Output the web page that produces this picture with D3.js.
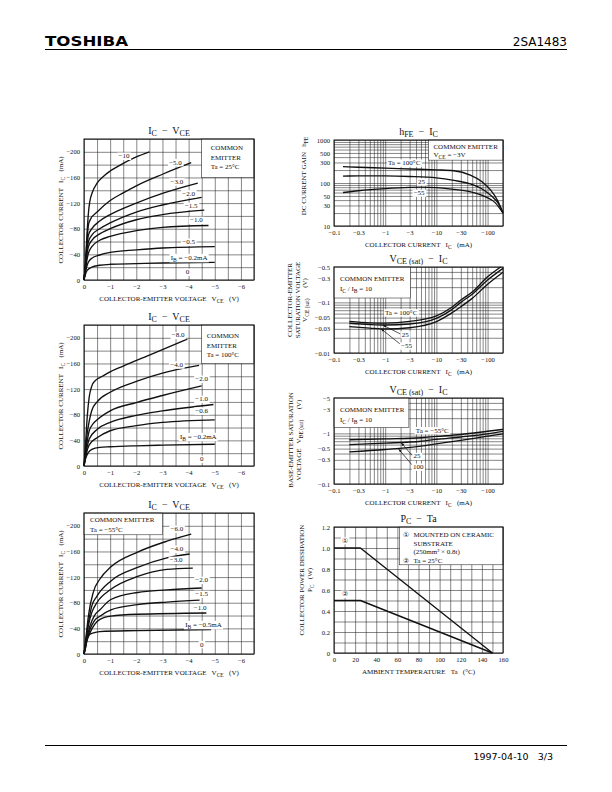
<!DOCTYPE html>
<html>
<head>
<meta charset="utf-8">
<script src="https://cdn.jsdelivr.net/npm/d3@7"></script>
<style>
    html, body { margin: 0; padding: 0; background: #fff; }
    svg { display: block; }
    text { white-space: pre; }
</style>
</head>
<body>
<svg id="sheet" width="612" height="792"></svg>
<script>
'use strict';

// ---- IC - VCE families (|VCE| in V, |IC| in mA) ----
var vceTicks = [0, 1, 2, 3, 4, 5, 6];
var icTicks = [0, 40, 80, 120, 160, 200];

var ibLabels25 = ['−10', '−5.0', '−3.0', '−2.0', '−1.5', '−1.0', '−0.5', 'I_{B} = −0.2mA', '0'];
var icCurves25 = [
    [[0, 0], [0.06, 30], [0.12, 75], [0.17, 105], [0.22, 122], [0.32, 137], [0.5, 151], [0.75, 162], [1, 170], [1.5, 182], [2, 192], [2.5, 200]],
    [[0, 0], [0.06, 27], [0.12, 65], [0.17, 86], [0.25, 95], [0.5, 106], [1, 124], [1.5, 136], [2, 147], [3, 165], [4.1, 183]],
    [[0, 0], [0.06, 24], [0.12, 55], [0.17, 70], [0.3, 80], [0.6, 92], [1, 102], [2, 120], [3, 135], [4.35, 151]],
    [[0, 0], [0.06, 22], [0.12, 48], [0.17, 60], [0.3, 70], [0.6, 80], [1, 89], [2, 106], [3, 117], [4.5, 129]],
    [[0, 0], [0.06, 20], [0.12, 42], [0.17, 52], [0.3, 62], [0.6, 72], [1, 80], [2, 94], [3, 102], [4.6, 109]],
    [[0, 0], [0.06, 17], [0.12, 33], [0.17, 42], [0.3, 52], [0.6, 62], [1, 68], [2, 77], [3, 82], [4.76, 85]],
    [[0, 0], [0.06, 13], [0.12, 23], [0.17, 28], [0.3, 34], [0.6, 39], [1, 43], [2, 47], [3, 50], [5, 52]],
    [[0, 0], [0.05, 8], [0.12, 15], [0.3, 20], [0.6, 23], [1, 24.5], [2, 25.5], [3, 26.5], [5, 27.5]],
    []
];

var ibLabels100 = ['−8.0', '−4.0', '−2.0', '−1.0', '−0.6', 'I_{B} = −0.2mA', '0'];
var icCurves100 = [
    [[0, 0], [0.06, 35], [0.12, 75], [0.2, 108], [0.3, 125], [0.45, 134], [0.7, 140], [1, 147], [1.5, 156], [2.5, 173], [3.95, 198]],
    [[0, 0], [0.06, 25], [0.12, 50], [0.2, 70], [0.3, 87], [0.5, 100], [1, 115], [2, 132], [3, 145], [4.4, 157]],
    [[0, 0], [0.06, 20], [0.12, 38], [0.2, 55], [0.35, 66], [0.5, 72], [1, 86], [2, 99], [3, 110], [4.5, 125]],
    [[0, 0], [0.06, 16], [0.12, 30], [0.2, 42], [0.5, 57], [1, 68], [2, 79], [3, 86], [4.95, 96]],
    [[0, 0], [0.06, 13], [0.12, 24], [0.2, 33], [0.5, 44], [1, 55], [2, 63], [3, 68], [5, 72]],
    [[0, 0], [0.05, 10], [0.15, 20], [0.3, 26], [0.6, 29], [1, 30], [2, 31.5], [3, 32.5], [5, 34]],
    []
];

var ibLabelsM55 = ['−6.0', '−4.0', '−3.0', '−2.0', '−1.5', '−1.0', 'I_{B} = −0.5mA', '0'];
var icCurvesM55 = [
    [[0, 0], [0.06, 20], [0.1, 35], [0.17, 60], [0.36, 97], [0.61, 117], [1.03, 136], [2.05, 159], [3.17, 176], [4.1, 187]],
    [[0, 0], [0.06, 17], [0.1, 30], [0.17, 49], [0.3, 75], [0.49, 90], [1.03, 114], [2.05, 135], [3.17, 150], [4.04, 156]],
    [[0, 0], [0.06, 16], [0.1, 28], [0.17, 45], [0.3, 65], [0.49, 80], [1.03, 101], [2.05, 121], [3.17, 132], [4.16, 134]],
    [[0, 0], [0.06, 12], [0.1, 22], [0.23, 44], [0.4, 60], [0.61, 69], [1.03, 85], [2.05, 96], [3.17, 100], [4.5, 103]],
    [[0, 0], [0.06, 11], [0.1, 20], [0.23, 38], [0.4, 52], [0.61, 59], [1.03, 69], [2.05, 77], [3.17, 81], [4.42, 84]],
    [[0, 0], [0.06, 10], [0.1, 18], [0.23, 33], [0.4, 46], [0.61, 54], [1.03, 59], [2.05, 62], [4.68, 64]],
    [[0, 0], [0.05, 12], [0.1, 22], [0.2, 30], [0.36, 33], [0.6, 35], [2.05, 36.5], [4.86, 38]],
    []
];

// ---- log charts vs |IC| (mA) ----
var icLogTicks = [0.1, 0.3, 1, 3, 10, 30, 100];
var taLabels = ['Ta = 100°C', '25', '−55'];

var hfeTicks = [10, 30, 50, 100, 300, 500, 1000];
var hfeCurves = [
    [[0.15, 240], [0.3, 232], [1, 222], [3, 212], [10, 202], [22, 193], [46, 153], [78, 107], [114, 69], [155, 40], [200, 20]],
    [[0.15, 145], [0.3, 146], [1, 146], [3, 142], [10, 132], [22, 115], [46, 95], [85, 68], [124, 48], [166, 32], [200, 20]],
    [[0.15, 60], [0.3, 66], [1, 74], [3, 79], [5, 80], [10, 78], [20, 72], [45, 63], [90, 48], [140, 35], [200, 20]]
];

var vceSatTicks = [0.01, 0.03, 0.05, 0.1, 0.3, 0.5];
var vceSatCurves = [
    [[0.2, 0.042], [0.5, 0.0395], [1, 0.039], [3, 0.042], [10, 0.054], [20, 0.08], [30, 0.111], [50, 0.16], [100, 0.32], [180, 0.5]],
    [[0.2, 0.0387], [0.5, 0.0365], [1, 0.0357], [3, 0.0374], [10, 0.0484], [20, 0.072], [30, 0.1], [50, 0.145], [100, 0.277], [200, 0.47]],
    [[0.2, 0.0331], [0.5, 0.031], [1, 0.0298], [3, 0.0316], [10, 0.0416], [20, 0.062], [30, 0.082], [50, 0.12], [100, 0.228], [200, 0.394]]
];

var vbeSatLabels = ['Ta = −55°C', '25', '100'];
var vbeSatTicks = [0.1, 0.3, 0.5, 1, 3, 5];
var vbeSatCurves = [
    [[0.2, 0.75], [1, 0.78], [5, 0.82], [10, 0.87], [30, 0.95], [100, 1.1], [200, 1.2]],
    [[0.2, 0.6], [1, 0.64], [5, 0.7], [10, 0.76], [30, 0.85], [100, 0.98], [200, 1.1]],
    [[0.2, 0.43], [1, 0.48], [5, 0.56], [10, 0.62], [30, 0.73], [100, 0.88], [200, 0.98]]
];

// ---- PC - Ta ----
var taTicks = [0, 20, 40, 60, 80, 100, 120, 140, 160];
var pcTicks = [0, 0.2, 0.4, 0.6, 0.8, 1.0, 1.2];
var pcLabels = ['①', '②'];
var pcCurves = [
    [[0, 1.0], [25, 1.0], [150, 0]],
    [[0, 0.5], [25, 0.5], [150, 0]]
];

var svg = d3.select('#sheet');
var SERIF = "'Liberation Serif', 'DejaVu Serif', serif";
var SANS = "'DejaVu Sans', 'Liberation Sans', sans-serif";
var INK = '#111';
var FS = 7;
var TICK_FS = 6.6;
var minus = function (v) { return v === 0 ? '0' : '−' + v; };

svg.append('defs').append('marker')
    .attr('id', 'arrow').attr('viewBox', '0 0 10 10').attr('refX', 10).attr('refY', 5)
    .attr('markerWidth', 5).attr('markerHeight', 5).attr('orient', 'auto')
    .append('path').attr('d', 'M0,1.5 L10,5 L0,8.5 Z').attr('fill', INK);

// text with _{sub} parts
var rich = function (parent, str, size) {
    var t = parent.append('text')
        .attr('font-family', SERIF).attr('font-size', size)
        .attr('dominant-baseline', 'central').attr('fill', INK);
    var shifted = false;
    str.split(/_\{([^}]*)\}/).forEach(function (bit, i) {
        if (!bit) { return; }
        var ts = t.append('tspan').text(bit);
        if (i % 2) {
            ts.attr('font-size', size * 0.8).attr('dy', size * 0.3);
            shifted = true;
        } else if (shifted) {
            ts.attr('dy', -size * 0.3);
            shifted = false;
        }
    });
    return t;
};

var label = function (g, px, py, str, anchor) {
    var t = rich(g, str, FS).attr('x', px).attr('y', py).attr('text-anchor', anchor || 'middle');
    var b = t.node().getBBox();
    g.insert('rect', function () { return t.node(); })
        .attr('x', b.x - 1.2).attr('y', b.y + 0.3).attr('width', b.width + 2.4).attr('height', b.height - 0.6)
        .attr('fill', '#fff');
    return t;
};

var clean = function (s) {
    s.select('.domain').remove();
    s.selectAll('.tick line').attr('stroke', '#222').attr('stroke-width', 0.55);
};
var fontify = function (s) {
    s.select('.domain').remove();
    s.attr('font-family', SERIF).attr('font-size', TICK_FS);
    s.selectAll('text').attr('fill', INK);
};

var grid = function (g, x, y, xs, ys) {
    var h = y.range()[0] - y.range()[1], w = x.range()[1] - x.range()[0];
    g.append('g').attr('transform', 'translate(0,' + y.range()[0] + ')')
        .call(d3.axisBottom(x).tickValues(xs).tickSize(-h).tickFormat('')).call(clean);
    g.append('g').attr('transform', 'translate(' + x.range()[0] + ',0)')
        .call(d3.axisLeft(y).tickValues(ys).tickSize(-w).tickFormat('')).call(clean);
};

var axes = function (g, x, y, xs, ys, fx, fy) {
    g.append('g').attr('transform', 'translate(0,' + y.range()[0] + ')')
        .call(d3.axisBottom(x).tickValues(xs).tickSize(0).tickPadding(4).tickFormat(fx)).call(fontify);
    g.append('g').attr('transform', 'translate(' + x.range()[0] + ',0)')
        .call(d3.axisLeft(y).tickValues(ys).tickSize(0).tickPadding(4).tickFormat(fy)).call(fontify);
    g.append('rect')
        .attr('x', x.range()[0]).attr('y', y.range()[1])
        .attr('width', x.range()[1] - x.range()[0]).attr('height', y.range()[0] - y.range()[1])
        .attr('fill', 'none').attr('stroke', INK).attr('stroke-width', 1);
};

var box = function (g, x, y, xd, yd) {
    g.append('rect')
        .attr('x', x(xd[0])).attr('y', y(yd[1]))
        .attr('width', x(xd[1]) - x(xd[0])).attr('height', y(yd[0]) - y(yd[1]))
        .attr('fill', '#fff').attr('stroke', '#222').attr('stroke-width', 0.55);
};

var curves = function (g, x, y, data, shape) {
    var line = d3.line().x(function (d) { return x(d[0]); }).y(function (d) { return y(d[1]); })
        .curve(shape || d3.curveMonotoneX);
    g.append('g').selectAll('path').data(data.filter(function (d) { return d.length; }))
        .join('path').attr('d', line)
        .attr('fill', 'none').attr('stroke', INK).attr('stroke-width', 1.35)
        .attr('stroke-linejoin', 'round');
};

var titles = function (g, x, y, title, xLabel, yLabels) {
    var cx = (x.range()[0] + x.range()[1]) / 2;
    rich(g, title, 10).attr('x', cx).attr('y', y.range()[1] - 9).attr('text-anchor', 'middle');
    rich(g, xLabel, FS).attr('x', cx).attr('y', y.range()[0] + 19).attr('text-anchor', 'middle');
    yLabels.forEach(function (l) {
        rich(g, l.s, FS).attr('text-anchor', 'middle')
            .attr('transform', 'translate(' + l.x + ',' + l.cy + ') rotate(-90)');
    });
};

var legend = function (g, px, py, rows) {
    rows.forEach(function (r, i) {
        rich(g, r, FS).attr('x', px).attr('y', py[i]);
    });
};

// ---- the three IC - VCE charts ----
var drawIcVce = function (o) {
    var x = d3.scaleLinear().domain([0, 6.5]).range([84, 254]);
    var y = d3.scaleLinear().domain([0, 220]).range([o.bottom, o.bottom - 141]);
    var g = svg.append('g');
    grid(g, x, y, d3.range(0, 6.51, 0.5), d3.range(0, 221, 20));
    box(g, x, y, o.box[0], o.box[1]);
    legend(g, x(o.box[0][0]) + o.textDx, o.textDy.map(function (d) { return y(220) + d; }), o.legend);
    curves(g, x, y, o.curves);
    o.labels.forEach(function (l, i) {
        label(g, x(o.labelAt[i][0]), y(o.labelAt[i][1]), l);
    });
    axes(g, x, y, vceTicks, icTicks, minus, minus);
    titles(g, x, y, 'I_{C}  −  V_{CE}', 'COLLECTOR-EMITTER VOLTAGE   V_{CE}   (V)',
        [{x: 61, cy: o.bottom - 70, s: 'COLLECTOR CURRENT   I_{C}   (mA)'}]);
};

drawIcVce({
    bottom: 280, curves: icCurves25, labels: ibLabels25,
    labelAt: [[1.53, 193], [3.5, 183], [3.55, 153], [4.0, 134.5], [4.1, 115], [4.3, 93], [4.0, 59], [4.02, 35], [3.96, 12]],
    box: [[4.5, 6.5], [160, 220]], textDx: 9, textDy: [9.3, 18.5, 27.7],
    legend: ['COMMON', 'EMITTER', 'Ta = 25°C']
});
drawIcVce({
    bottom: 466, curves: icCurves100, labels: ibLabels100,
    labelAt: [[3.6, 203.7], [3.54, 157.5], [4.5, 135.4], [4.5, 104], [4.5, 85.6], [4.37, 46], [4.5, 10.5]],
    box: [[4.5, 6.5], [160, 220]], textDx: 5, textDy: [11, 20.5, 30],
    legend: ['COMMON', 'EMITTER', 'Ta = 100°C']
});
drawIcVce({
    bottom: 654, curves: icCurvesM55, labels: ibLabelsM55,
    labelAt: [[3.55, 194.8], [3.55, 163.4], [3.52, 146.2], [4.5, 114.9], [4.5, 93], [4.44, 72], [4.57, 46], [4.5, 14.6]],
    box: [[0, 3], [186, 220]], textDx: 6, textDy: [7, 17],
    legend: ['COMMON EMITTER', 'Ta = −55°C']
});

// ---- log-scale charts on the right ----
var logGrid = function (lo, hi) {
    var out = [];
    for (var e = Math.floor(Math.log10(lo)); e <= Math.ceil(Math.log10(hi)); e++) {
        for (var k = 1; k < 10; k++) {
            var v = +(k * Math.pow(10, e)).toPrecision(3);
            if (v >= lo * 0.999 && v <= hi * 1.001) { out.push(v); }
        }
    }
    return out;
};

var drawLog = function (o) {
    var x = d3.scaleLog().domain([0.1, 200]).range([334, 503]);
    var y = d3.scaleLog().domain(o.yDomain).range([o.bottom, o.bottom - 86]);
    var g = svg.append('g');
    grid(g, x, y, logGrid(0.1, 200), logGrid(o.yDomain[0], o.yDomain[1]));
    box(g, x, y, o.box[0], o.box[1]);
    legend(g, x(o.box[0][0]) + o.textDx, o.textDy.map(function (d) { return y.range()[1] + d; }), o.legend);
    curves(g, x, y, o.curves);
    (o.arrows || []).forEach(function (a, i) {
        var lp = o.labelAt[i + 1];
        g.append('line')
            .attr('x1', x(lp[0]) - 5).attr('y1', y(lp[1]) - 1)
            .attr('x2', x(a[0])).attr('y2', y(a[1]))
            .attr('stroke', INK).attr('stroke-width', 0.7).attr('marker-end', 'url(#arrow)');
    });
    o.labels.forEach(function (l, i) {
        label(g, x(o.labelAt[i][0]), y(o.labelAt[i][1]), l);
    });
    axes(g, x, y, icLogTicks, o.yTicks, minus, o.yFormat);
    titles(g, x, y, o.title, 'COLLECTOR CURRENT   I_{C}   (mA)', o.yLabels);
};

drawLog({
    bottom: 226, yDomain: [10, 1000], yTicks: hfeTicks, yFormat: String,
    curves: hfeCurves, labels: taLabels,
    labelAt: [[2.35, 290], [5.1, 105], [4.6, 58]],
    box: [[7, 200], [340, 1000]], textDx: 5, textDy: [6.7, 15.2],
    legend: ['COMMON EMITTER', 'V_{CE} = −3V'],
    title: 'h_{FE}  −  I_{C}',
    yLabels: [{x: 304, cy: 176, s: 'DC CURRENT GAIN   h_{FE}'}]
});
drawLog({
    bottom: 353, yDomain: [0.01, 0.5], yTicks: vceSatTicks, yFormat: minus,
    curves: vceSatCurves, labels: taLabels,
    labelAt: [[2.05, 0.062], [2.47, 0.0227], [2.6, 0.0137]],
    arrows: [[0.9, 0.0357], [0.83, 0.0300]],
    box: [[0.1, 3.1], [0.122, 0.5]], textDx: 6, textDy: [12, 22.3],
    legend: ['COMMON EMITTER', 'I_{C} / I_{B} = 10'],
    title: 'V_{CE (sat)}  −  I_{C}',
    yLabels: [
        {x: 290, cy: 300, s: 'COLLECTOR-EMITTER'},
        {x: 297.5, cy: 300, s: 'SATURATION VOLTAGE'},
        {x: 305, cy: 300, s: 'V_{CE (sat)}      (V)'}
    ]
});
drawLog({
    bottom: 484, yDomain: [0.1, 5], yTicks: vbeSatTicks, yFormat: minus,
    curves: vbeSatCurves, labels: vbeSatLabels,
    labelAt: [[8.3, 1.13], [4.2, 0.35], [4.4, 0.215]],
    arrows: [[2.05, 0.655], [1.83, 0.49]],
    box: [[0.1, 2.9], [1.3, 5]], textDx: 6, textDy: [12.3, 22.3],
    legend: ['COMMON EMITTER', 'I_{C} / I_{B} = 10'],
    title: 'V_{CE (sat)}  −  I_{C}',
    yLabels: [
        {x: 291, cy: 440, s: 'BASE-EMITTER SATURATION'},
        {x: 298.5, cy: 440, s: 'VOLTAGE   V_{BE (sat)}      (V)'}
    ]
});

// ---- PC - Ta ----
(function () {
    var x = d3.scaleLinear().domain([0, 160]).range([334, 503]);
    var y = d3.scaleLinear().domain([0, 1.2]).range([653, 527]);
    var g = svg.append('g');
    grid(g, x, y, d3.range(0, 161, 10), d3.range(0, 1.21, 0.1));
    box(g, x, y, [62, 160], [0.84, 1.2]);
    var bx = x(62), by = y(1.2);
    legend(g, bx + 4, [by + 8, by + 34], ['①', '②']);
    legend(g, bx + 14, [by + 8, by + 16.5, by + 25.3, by + 34],
        ['MOUNTED ON CERAMIC', 'SUBSTRATE', '(250mm² × 0.8t)', 'Ta = 25°C']);
    curves(g, x, y, pcCurves, d3.curveLinear);
    pcLabels.forEach(function (l, i) {
        label(g, x(10.5), y([1.07, 0.56][i]), l);
    });
    axes(g, x, y, taTicks, pcTicks, String, function (v) { return v === 0 ? '0' : v.toFixed(1); });
    titles(g, x, y, 'P_{C}  −  Ta', 'AMBIENT TEMPERATURE   Ta   (°C)', [
        {x: 302, cy: 580, s: 'COLLECTOR POWER DISSIPATION'},
        {x: 309.5, cy: 580, s: 'P_{C}   (W)'}
    ]);
})();

// ---- page header / footer ----
svg.append('text').attr('x', 45).attr('y', 45.5)
    .attr('font-family', SANS).attr('font-weight', 'bold').attr('font-size', 14.5)
    .attr('textLength', 83).attr('lengthAdjust', 'spacingAndGlyphs').attr('fill', '#000')
    .text('TOSHIBA');
svg.append('text').attr('x', 567).attr('y', 45.5).attr('text-anchor', 'end')
    .attr('font-family', SANS).attr('font-size', 12).attr('fill', '#000')
    .text('2SA1483');
svg.append('line').attr('x1', 45).attr('x2', 567).attr('y1', 49.5).attr('y2', 49.5)
    .attr('stroke', '#000').attr('stroke-width', 1);
svg.append('line').attr('x1', 45).attr('x2', 567).attr('y1', 745.5).attr('y2', 745.5)
    .attr('stroke', '#000').attr('stroke-width', 1);
svg.append('text').attr('x', 553).attr('y', 760).attr('text-anchor', 'end')
    .attr('font-family', SANS).attr('font-size', 9.5).attr('fill', '#000')
    .text('1997-04-10   3/3');
</script>
</body>
</html>
